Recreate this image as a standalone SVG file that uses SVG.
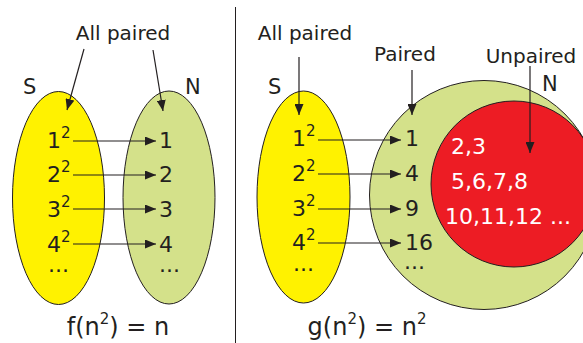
<svg xmlns="http://www.w3.org/2000/svg" width="583" height="343" viewBox="0 0 583 343">
<style>
text{font-family:"DejaVu Sans","Liberation Sans",sans-serif;font-size:20px;fill:#231f20}
.d{font-size:22px}
.sn{font-size:21px}
.sup{font-size:15px}
.big{font-size:24px}
.w{fill:#ffffff;font-size:22px}
.ln{stroke:#231f20;stroke-width:1.2;fill:none}
.el{stroke:#231f20;stroke-width:1}
</style>
<defs>
<marker id="ah" markerWidth="11" markerHeight="9" refX="11" refY="4.5" orient="auto" markerUnits="userSpaceOnUse">
<path d="M0,0 L11,4.5 L0,9 Z" fill="#231f20"/>
</marker>
</defs>
<rect width="583" height="343" fill="#ffffff"/>
<line x1="235.5" y1="7" x2="235.5" y2="343" stroke="#231f20" stroke-width="1"/>

<g id="left-S">
<ellipse cx="58.5" cy="198" rx="46" ry="106.5" fill="#fff200" class="el"/>
<text class="sn" x="23" y="94">S</text>
<text class="d" x="47" y="148">1<tspan class="sup" dy="-10">2</tspan></text>
<text class="d" x="47" y="182">2<tspan class="sup" dy="-10">2</tspan></text>
<text class="d" x="47" y="217">3<tspan class="sup" dy="-10">2</tspan></text>
<text class="d" x="47" y="252">4<tspan class="sup" dy="-10">2</tspan></text>
<text class="d" x="48" y="272">...</text>
</g>
<g id="left-N">
<ellipse cx="169" cy="197.5" rx="46" ry="106.5" fill="#d4e18a" class="el"/>
<text class="sn" x="185" y="94">N</text>
<text class="d" x="159" y="148">1</text>
<text class="d" x="159" y="182">2</text>
<text class="d" x="159" y="217">3</text>
<text class="d" x="159" y="252">4</text>
<text class="d" x="159" y="272">...</text>
</g>
<g id="left-labels">
<text x="123" y="40" text-anchor="middle">All paired</text>
<text class="big" x="118" y="335" text-anchor="middle">f(n<tspan class="sup" dy="-11">2</tspan><tspan dy="11">) = n</tspan></text>
</g>

<g id="right-S">
<ellipse cx="303.5" cy="197" rx="46.5" ry="106" fill="#fff200" class="el"/>
<text class="sn" x="268" y="94">S</text>
<text class="d" x="292" y="146">1<tspan class="sup" dy="-10">2</tspan></text>
<text class="d" x="292" y="181">2<tspan class="sup" dy="-10">2</tspan></text>
<text class="d" x="292" y="216">3<tspan class="sup" dy="-10">2</tspan></text>
<text class="d" x="292" y="250">4<tspan class="sup" dy="-10">2</tspan></text>
<text class="d" x="293" y="271">...</text>
</g>
<g id="right-N">
<circle cx="484" cy="195" r="114.5" fill="#d4e18a" class="el"/>
<text class="sn" x="542" y="91">N</text>
<text class="d" x="405" y="146">1</text>
<text class="d" x="405" y="181">4</text>
<text class="d" x="405" y="216">9</text>
<text class="d" x="405" y="250">16</text>
<text class="d" x="404" y="269">...</text>
</g>
<g id="unpaired">
<ellipse cx="514" cy="184" rx="83" ry="83" fill="#ed1c24" class="el"/>
<text class="w" x="451" y="154">2,3</text>
<text class="w" x="451" y="189">5,6,7,8</text>
<text class="w" x="445" y="224">10,11,12 ...</text>
</g>
<g id="right-labels">
<text x="305" y="40" text-anchor="middle">All paired</text>
<text x="405" y="61" text-anchor="middle">Paired</text>
<text x="531" y="63" text-anchor="middle">Unpaired</text>
<text class="big" x="367" y="335" text-anchor="middle">g(n<tspan class="sup" dy="-11">2</tspan><tspan dy="11">) = n</tspan><tspan class="sup" dy="-11">2</tspan></text>
</g>

<g id="connectors" class="ln">
<line x1="84" y1="49" x2="67" y2="110" marker-end="url(#ah)"/>
<line x1="153" y1="50" x2="163" y2="111" marker-end="url(#ah)"/>
<line x1="73" y1="141" x2="156" y2="141" marker-end="url(#ah)"/>
<line x1="73" y1="175" x2="156" y2="175" marker-end="url(#ah)"/>
<line x1="73" y1="209" x2="156" y2="209" marker-end="url(#ah)"/>
<line x1="73" y1="244" x2="156" y2="244" marker-end="url(#ah)"/>
<line x1="299" y1="57" x2="299" y2="115" marker-end="url(#ah)"/>
<line x1="412" y1="70" x2="412" y2="115" marker-end="url(#ah)"/>
<line x1="530" y1="66" x2="530" y2="153" marker-end="url(#ah)"/>
<line x1="318" y1="140" x2="401" y2="140" marker-end="url(#ah)"/>
<line x1="318" y1="174" x2="401" y2="174" marker-end="url(#ah)"/>
<line x1="318" y1="209" x2="401" y2="209" marker-end="url(#ah)"/>
<line x1="318" y1="243" x2="401" y2="243" marker-end="url(#ah)"/>
</g>
</svg>
